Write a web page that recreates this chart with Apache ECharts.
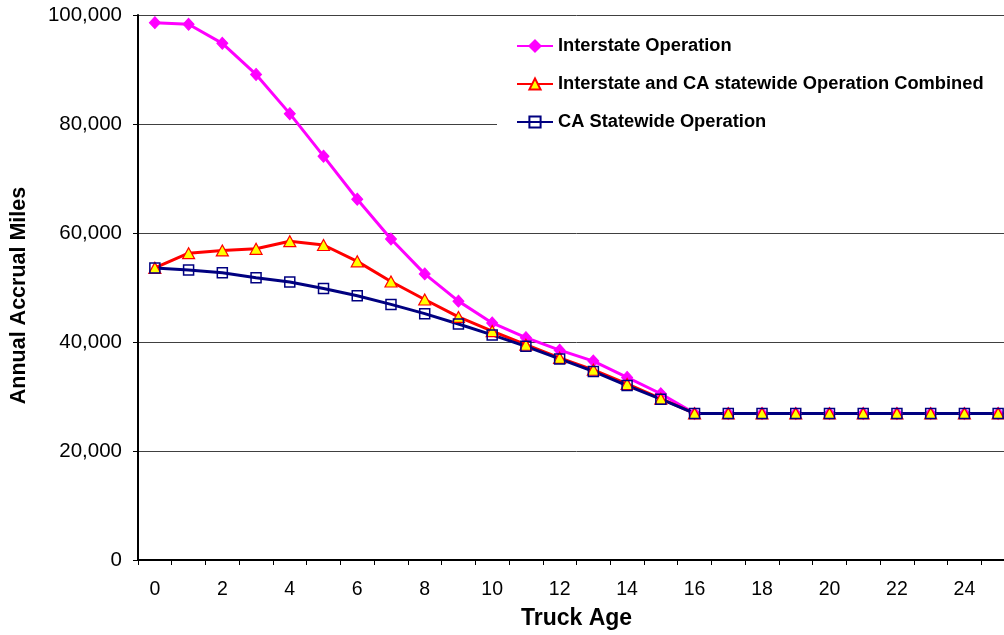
<!DOCTYPE html>
<html>
<head>
<meta charset="utf-8">
<script src="https://cdn.jsdelivr.net/npm/echarts@6/dist/echarts.min.js"></script>
<style>html,body{margin:0;padding:0;background:#fff;overflow:hidden;width:1004px;height:635px;}#c{width:1015px;height:635px;}</style>
</head>
<body>
<div id="c"></div>
<script>
const truckAge = ['0','1','2','3','4','5','6','7','8','9','10','11','12','13','14','15','16','17','18','19','20','21','22','23','24','25'];
const interstate = [98600, 98300, 94800, 89100, 81900, 74100, 66200, 58900, 52500, 47500, 43500, 40800, 38500, 36500, 33500, 30500, 26900, 26900, 26900, 26900, 26900, 26900, 26900, 26900, 26900, 26900];
const combined = [53600, 56300, 56800, 57100, 58500, 57800, 54800, 51100, 47800, 44600, 42000, 39500, 37100, 34900, 32300, 29600, 26900, 26900, 26900, 26900, 26900, 26900, 26900, 26900, 26900, 26900];
const caStatewide = [53600, 53200, 52700, 51800, 51000, 49800, 48500, 46900, 45200, 43300, 41300, 39200, 36900, 34600, 32000, 29500, 26900, 26900, 26900, 26900, 26900, 26900, 26900, 26900, 26900, 26900];
const seriesNames = ['Interstate Operation', 'Interstate and CA statewide Operation Combined', 'CA Statewide Operation'];

const chart = echarts.init(document.getElementById('c'), null, {renderer: 'canvas'});
const FONT = '"Liberation Sans", Arial, sans-serif';
chart.setOption({
  animation: false,
  backgroundColor: '#fff',
  textStyle: {fontFamily: FONT, color: '#000'},
  grid: {left: 137.5, top: 15, right: 0, bottom: 73},
  legend: {
    orient: 'vertical',
    left: 497, top: 24,
    padding: [12, 40, 12, 19],
    backgroundColor: '#fff',
    itemWidth: 36, itemHeight: 14, itemGap: 18,
    textStyle: {fontFamily: FONT, fontWeight: 'bold', fontSize: 18.3, color: '#000', lineHeight: 20},
    data: seriesNames
  },
  xAxis: {
    type: 'category',
    data: truckAge,
    boundaryGap: true,
    name: 'Truck Age',
    nameLocation: 'middle',
    nameGap: 47,
    nameTextStyle: {fontFamily: FONT, fontWeight: 'bold', fontSize: 23, color: '#000'},
    axisLine: {lineStyle: {color: '#000', width: 2}},
    axisTick: {show: true, interval: 0, length: 5, inside: false, lineStyle: {color: '#000', width: 1}},
    axisLabel: {interval: 1, margin: 20, fontFamily: FONT, fontSize: 19.5, color: '#000'},
    splitLine: {show: false}
  },
  yAxis: {
    type: 'value',
    min: 0, max: 100000, interval: 20000,
    name: 'Annual Accrual Miles',
    nameLocation: 'middle',
    nameGap: 108,
    nameTextStyle: {fontFamily: FONT, fontWeight: 'bold', fontSize: 21.5, color: '#000', padding: [0, 16, 0, 0]},
    axisLine: {show: true, lineStyle: {color: '#000', width: 2}},
    axisTick: {show: true, length: 5, lineStyle: {color: '#000', width: 1}},
    axisLabel: {margin: 16, fontFamily: FONT, fontSize: 20.5, color: '#000',
      formatter: v => v.toLocaleString('en-US')},
    splitLine: {show: true, lineStyle: {color: '#404040', width: 1}}
  },
  series: [
    {
      name: seriesNames[0], type: 'line', data: interstate,
      symbol: 'diamond', symbolSize: [11, 12], showAllSymbol: true,
      lineStyle: {color: '#FF00FF', width: 3},
      itemStyle: {color: '#FF00FF', borderColor: '#FF00FF', borderWidth: 1}
    },
    {
      name: seriesNames[1], type: 'line', data: combined,
      symbol: 'triangle', symbolSize: [12, 11], showAllSymbol: true,
      lineStyle: {color: '#FF0000', width: 3},
      itemStyle: {color: '#FFFF00', borderColor: '#FF0000', borderWidth: 1.2}
    },
    {
      name: seriesNames[2], type: 'line', data: caStatewide,
      symbol: 'rect', symbolSize: 10, showAllSymbol: true,
      lineStyle: {color: '#000080', width: 3},
      itemStyle: {color: 'rgba(255,255,255,0)', borderColor: '#000080', borderWidth: 1.5}
    }
  ]
});
</script>
</body>
</html>
